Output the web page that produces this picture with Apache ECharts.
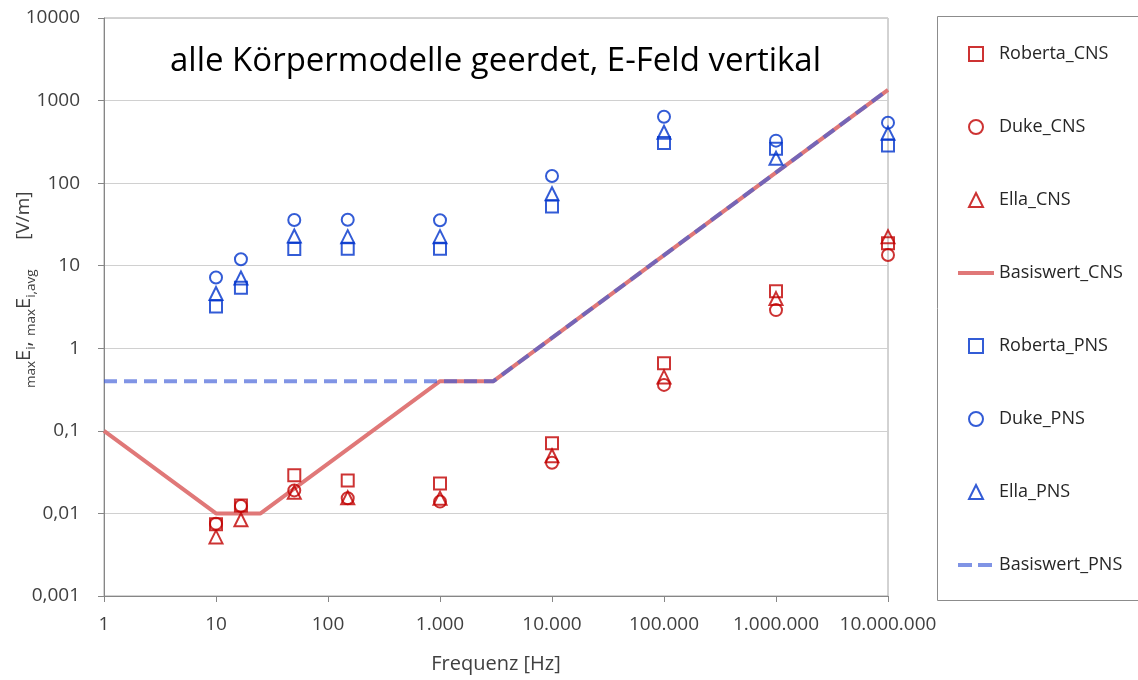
<!DOCTYPE html>
<html>
<head>
<meta charset="utf-8">
<script src="https://cdn.jsdelivr.net/npm/echarts@6/dist/echarts.min.js"></script>
<style>
  html, body { margin: 0; padding: 0; background: #fff; }
  #chart { width: 1138px; height: 680px; }
</style>
</head>
<body>
<div id="chart"></div>
<script>
// Frequencies of the simulated exposure cases [Hz]
const freqs = [10, 16.7, 50, 150, 1000, 10000, 100000, 1000000, 10000000];

// Internal field strengths, central nervous system (CNS) [V/m]
const robertaCNS = [0.0074, 0.0125, 0.029, 0.025, 0.023, 0.071, 0.66, 4.9, 18.7];
const dukeCNS    = [0.0075, 0.0123, 0.019, 0.0153, 0.0139, 0.041, 0.36, 2.9, 13.5];
const ellaCNS    = [0.0052, 0.0084, 0.018, 0.0155, 0.0153, 0.050, 0.45, 4.0, 22.5];

// Internal field strengths, peripheral nervous system (PNS) [V/m]
const robertaPNS = [3.2, 5.4, 15.9, 16, 16, 52, 306, 261, 286];
const dukePNS    = [7.2, 12, 35.8, 36, 35.5, 122, 638, 327, 540];
const ellaPNS    = [4.6, 7.1, 22.9, 22.5, 22.5, 74.5, 414, 200, 401];

// Basic restriction curves: corner frequencies and values
const baseCNSFreq = [1, 10, 25, 1000, 3000, 10000000];
const baseCNSVal  = [0.1, 0.01, 0.01, 0.4, 0.4, 1350];
const basePNSFreq = [1, 3000, 10000000];
const basePNSVal  = [0.4, 0.4, 1350];

// Tick labels, one per decade
const xTickLabels = ['1', '10', '100', '1.000', '10.000', '100.000', '1.000.000', '10.000.000'];
const yTickLabels = ['0,001', '0,01', '0,1', '1', '10', '100', '1000', '10000'];

const titleText = 'alle Körpermodelle geerdet, E-Feld vertikal';
const xName = 'Frequenz [Hz]';

const RED = '#C00000';
const BLUE = '#0033CC';
const CNS_LINE = '#E07878';
const PNS_LINE = 'rgba(60,90,215,0.65)';
const PNS_DASH = [13, 7];
const FONT = 'Open Sans';
const GREY_TXT = '#404040';

// Square / triangle outlines as paths so legend icons keep their aspect ratio
const ICON_RECT = 'path://M0,0H10V10H0Z';
const ICON_TRI = 'path://M5,0L10,10H0Z';
const NO_MARK = { color: 'rgba(0,0,0,0)', borderColor: 'rgba(0,0,0,0)', borderWidth: 0 };

const pairs = (xs, ys) => xs.map((x, i) => [x, ys[i]]);

function scatter(name, values, symbol, color) {
  return {
    name, type: 'scatter', data: pairs(freqs, values), symbol,
    symbolSize: symbol === 'triangle' ? 13 : 12, clip: false, z: 4,
    itemStyle: { color: 'transparent', borderColor: color, borderWidth: 2 }
  };
}

const chart = echarts.init(document.getElementById('chart'), null, { renderer: 'canvas' });
chart.setOption({
  animation: false,
  backgroundColor: '#fff',
  textStyle: { fontFamily: FONT },
  title: {
    text: titleText, left: 165, top: 40,
    textStyle: { fontFamily: FONT, fontSize: 33, fontWeight: 'normal', color: '#000' }
  },
  grid: {
    left: 104, right: 250, top: 18, bottom: 84, outerBoundsMode: 'none', containLabel: false,
    show: true, borderColor: '#a6a6a6', borderWidth: 1
  },
  xAxis: {
    type: 'log', logBase: 10, min: 1, max: 10000000,
    name: xName, nameLocation: 'middle', nameGap: 58, nameMoveOverlap: false,
    nameTextStyle: { fontFamily: FONT, fontSize: 20, color: GREY_TXT },
    axisLine: { lineStyle: { color: '#868686' } },
    axisTick: { show: true, length: 6, lineStyle: { color: '#868686' } },
    minorTick: { show: false },
    splitLine: { show: false },
    axisLabel: {
      margin: 19, fontSize: 19, color: GREY_TXT, fontFamily: FONT,
      formatter: v => xTickLabels[Math.round(Math.log10(v))]
    }
  },
  yAxis: {
    type: 'log', logBase: 10, min: 0.001, max: 10000,
    name: '{pad|       }{m|max}{E|E}{s|i}{c|, }{m|max}{E|E}{s|i,avg}{g|      }{u|[V/m]}',
    nameLocation: 'middle', nameRotate: 90, nameGap: 66, nameMoveOverlap: false,
    nameTextStyle: {
      color: GREY_TXT, fontFamily: FONT,
      rich: {
        pad: { fontSize: 19, lineHeight: 28, fontFamily: FONT },
        m: { fontSize: 13.5, lineHeight: 14, verticalAlign: 'bottom', color: GREY_TXT, fontFamily: FONT },
        E: { fontSize: 20, lineHeight: 28, color: GREY_TXT, fontFamily: FONT },
        s: { fontSize: 13.5, lineHeight: 14, verticalAlign: 'bottom', color: GREY_TXT, fontFamily: FONT },
        c: { fontSize: 20, lineHeight: 28, color: GREY_TXT, fontFamily: FONT },
        g: { fontSize: 19, lineHeight: 28, fontFamily: FONT },
        u: { fontSize: 19, lineHeight: 28, color: GREY_TXT, fontFamily: FONT }
      }
    },
    axisLine: { show: true, lineStyle: { color: '#868686' } },
    axisTick: { show: true, length: 6, lineStyle: { color: '#868686' } },
    minorTick: { show: false },
    splitLine: { show: true, lineStyle: { color: '#d0d0d0', width: 1 } },
    axisLabel: {
      margin: 24, fontSize: 19, color: GREY_TXT, fontFamily: FONT,
      formatter: v => yTickLabels[Math.round(Math.log10(v)) + 3]
    }
  },
  legend: {
    orient: 'vertical', left: 956, top: 45, padding: 0,
    itemWidth: 36, itemHeight: 14, itemGap: 55, symbolKeepAspect: true,
    textStyle: { fontSize: 18, color: '#262626', fontFamily: FONT },
    data: [
      { name: 'Roberta_CNS', icon: ICON_RECT },
      { name: 'Duke_CNS', icon: 'circle' },
      { name: 'Ella_CNS', icon: ICON_TRI },
      { name: 'Basiswert_CNS', itemStyle: NO_MARK, lineStyle: { width: 4, color: CNS_LINE, type: 'solid' } },
      { name: 'Roberta_PNS', icon: ICON_RECT },
      { name: 'Duke_PNS', icon: 'circle' },
      { name: 'Ella_PNS', icon: ICON_TRI },
      { name: 'Basiswert_PNS', itemStyle: NO_MARK, lineStyle: { width: 4, color: PNS_LINE, type: [14, 6] } }
    ]
  },
  graphic: [{
    type: 'rect', shape: { x: 937.5, y: 16.5, width: 260, height: 584 },
    style: { fill: 'none', stroke: '#8c8c8c', lineWidth: 1 }, z: 0
  }],
  series: [
    {
      name: 'Basiswert_CNS', type: 'line', data: pairs(baseCNSFreq, baseCNSVal),
      symbol: 'none', showSymbol: false, z: 2,
      lineStyle: { color: CNS_LINE, width: 4 }, itemStyle: { color: CNS_LINE }
    },
    {
      name: 'Basiswert_PNS', type: 'line', data: pairs(basePNSFreq, basePNSVal),
      symbol: 'none', showSymbol: false, z: 3,
      lineStyle: { color: PNS_LINE, width: 4, type: PNS_DASH },
      itemStyle: { color: PNS_LINE }
    },
    scatter('Roberta_CNS', robertaCNS, 'rect', RED),
    scatter('Duke_CNS', dukeCNS, 'circle', RED),
    scatter('Ella_CNS', ellaCNS, 'triangle', RED),
    scatter('Roberta_PNS', robertaPNS, 'rect', BLUE),
    scatter('Duke_PNS', dukePNS, 'circle', BLUE),
    scatter('Ella_PNS', ellaPNS, 'triangle', BLUE)
  ]
});
</script>
</body>
</html>
